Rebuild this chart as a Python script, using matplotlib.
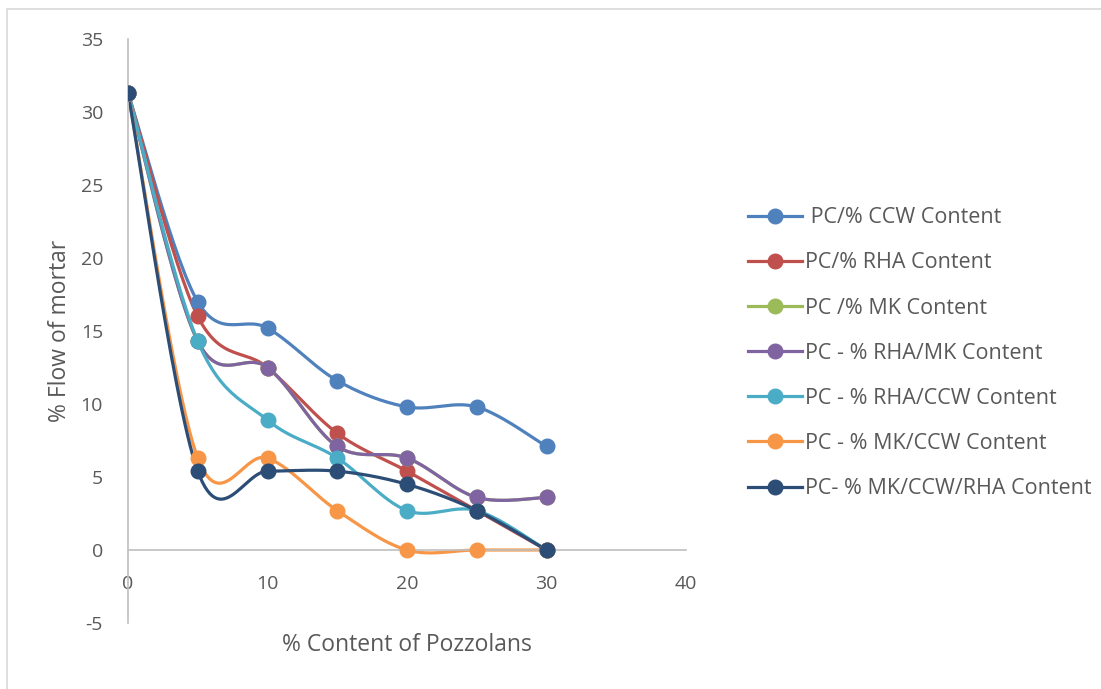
import numpy as np
import matplotlib
matplotlib.use('Agg')
import matplotlib.pyplot as plt
from matplotlib.patches import Rectangle

x = [0, 5, 10, 15, 20, 25, 30]
ccw = [31.3, 17.0, 15.2, 11.6, 9.8, 9.8, 7.1]
rha = [31.3, 16.0, 12.5, 8.0, 5.4, 2.7, 0.0]
mk = [31.3, 14.3, 12.5, 7.1, 6.3, 3.6, 3.6]
rha_mk = [31.3, 14.3, 12.5, 7.1, 6.3, 3.6, 3.6]
rha_ccw = [31.3, 14.3, 8.9, 6.3, 2.7, 2.7, 0.0]
mk_ccw = [31.3, 6.3, 6.3, 2.7, 0.0, 0.0, 0.0]
mk_ccw_rha = [31.3, 5.4, 5.4, 5.4, 4.5, 2.7, 0.0]

labels = [' PC/% CCW Content', 'PC/% RHA Content', 'PC /% MK Content',
          'PC - % RHA/MK Content', 'PC - % RHA/CCW Content',
          'PC - % MK/CCW Content', 'PC- % MK/CCW/RHA Content']
series = [ccw, rha, mk, rha_mk, rha_ccw, mk_ccw, mk_ccw_rha]
colors = ['#4F81BD', '#C0504D', '#9BBB59', '#8064A2', '#4BACC6', '#F79646', '#2C4D75']


def smooth(px, py, n=30):
    # Excel-style smoothed line: cubic bezier with catmull-rom control points
    px = np.asarray(px, float)
    py = np.asarray(py, float)
    P = np.column_stack([px, py])
    out = [P[0]]
    t = np.linspace(0, 1, n)[1:, None]
    for i in range(len(P) - 1):
        p0 = P[i - 1] if i > 0 else P[i]
        p1 = P[i]
        p2 = P[i + 1]
        p3 = P[i + 2] if i + 2 < len(P) else P[i + 1]
        c1 = p1 + (p2 - p0) / 6
        c2 = p2 - (p3 - p1) / 6
        seg = ((1 - t) ** 3) * p1 + 3 * ((1 - t) ** 2) * t * c1 + 3 * (1 - t) * t ** 2 * c2 + t ** 3 * p2
        out.extend(seg)
    out = np.array(out)
    return out[:, 0], out[:, 1]


plt.rcParams['font.family'] = ['Open Sans', 'DejaVu Sans']
plt.rcParams['axes.unicode_minus'] = False
tc = '#595959'

fig = plt.figure(figsize=(11.01, 6.89), dpi=100)
ax = fig.add_axes([128 / 1101, 1 - 623 / 689, (686 - 128) / 1101, (623 - 39) / 689])

for ys, c, lab in zip(series, colors, labels):
    sx, sy = smooth(x, ys)
    ax.plot(sx, sy, color=c, lw=2.3, solid_capstyle='round', zorder=2)
    ax.plot(x, ys, 'o', color=c, ms=10.5, zorder=3)
    ax.plot([], [], '-o', color=c, lw=2.3, ms=10.5, label=lab)

ax.set_xlim(0, 40)
ax.set_ylim(-5, 35)
ax.set_xticks([0, 10, 20, 30, 40])
ax.set_yticks(range(-5, 40, 5))
for s in ['top', 'right']:
    ax.spines[s].set_visible(False)
ax.spines['bottom'].set_position(('data', 0))
ax.spines['bottom'].set_color('#BFBFBF')
ax.spines['left'].set_color('#BFBFBF')
ax.spines['bottom'].set_linewidth(1.2)
ax.spines['left'].set_linewidth(1.2)
ax.tick_params(length=0, colors=tc, labelsize=14)
ax.tick_params(axis='x', pad=18)
ax.tick_params(axis='y', pad=18)
ax.patch.set_alpha(0)

fig.text(407 / 1101, 1 - 645 / 689, '% Content of Pozzolans', ha='center', va='center',
         color=tc, fontsize=16.5)
fig.text(60 / 1101, 1 - 331 / 689, '% Flow of mortar', ha='center', va='center',
         rotation=90, color=tc, fontsize=16.5)

leg = fig.legend(loc='upper left', bbox_to_anchor=(729 / 1101, 1 - 188 / 689), frameon=False,
                 fontsize=15.5, labelspacing=1.12, handlelength=2.5, handletextpad=0.15,
                 labelcolor=tc)

fig.patches.append(Rectangle((7 / 1101, -0.1), 1.2, 1 - 9 / 689 + 0.1, transform=fig.transFigure,
                             fill=False, edgecolor='#D9D9D9', lw=1.2))

plt.savefig('out.png', dpi=100)
